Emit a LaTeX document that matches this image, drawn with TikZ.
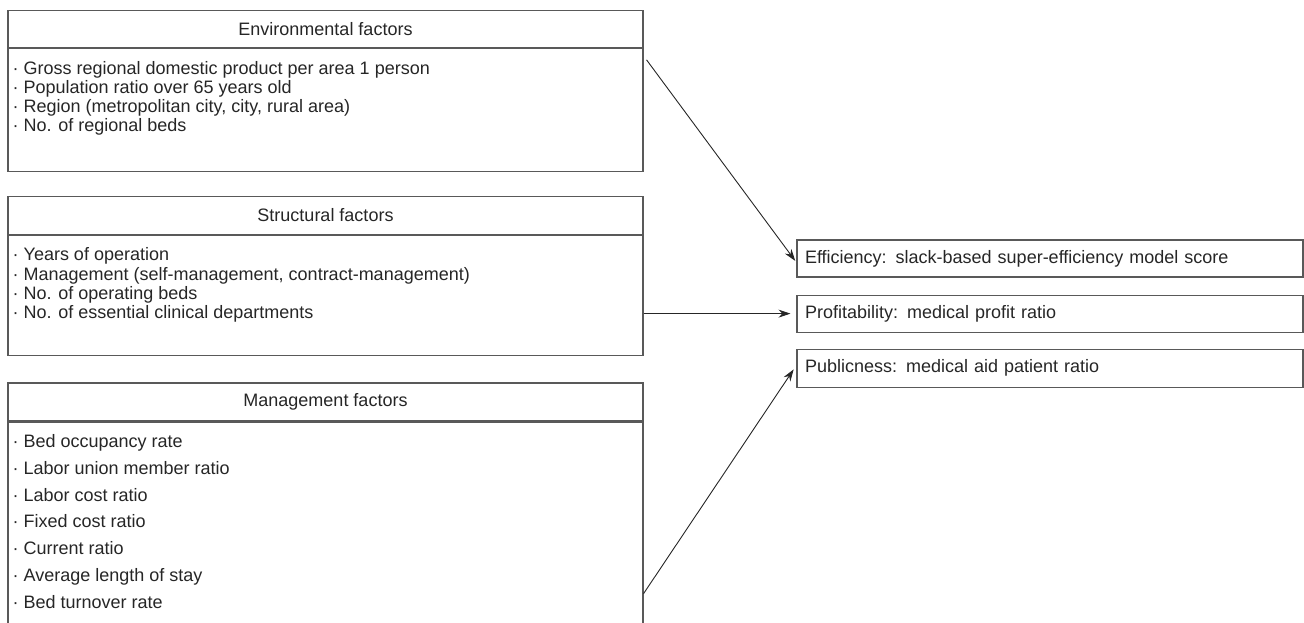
\documentclass[tikz,border=0pt]{standalone}
\usepackage{fontspec}
\setmainfont{Liberation Sans}
\usetikzlibrary{arrows.meta,positioning}

\begin{document}
\begin{tikzpicture}[
  x=1pt, y=-1pt,
  font=\fontsize{18}{19.3}\selectfont,
  every node/.style={text=black!85},
  box/.style={draw=black!65, line width=1.1pt, inner sep=0pt},
  headbox/.style={box, minimum width=635pt, minimum height=37pt},
  bodybox/.style={box, minimum width=635pt},
  listtext/.style={anchor=north west, align=left, inner xsep=5pt, inner ysep=13pt},
  outbox/.style={box, minimum width=506pt, minimum height=37pt, text width=490pt, align=left, inner xsep=8pt},
  arrow/.style={-{Stealth[length=12pt, width=8pt]}, line width=0.9pt, black!85},
]
\useasboundingbox (0,0) rectangle (1304,622);

% ===== Left column: factor groups =====
\node[headbox, minimum height=36.6pt] (envhead) at (325.5,29) {Environmental factors};
\node[bodybox, minimum height=122.7pt, below=0pt of envhead] (envbody) {};
\node[listtext] (envlist) at (envbody.north west) {· Gross regional domestic product per area 1 person\\· Population ratio over 65 years old\\· Region (metropolitan city, city, rural area)\\· No. of regional beds};

\node[headbox, minimum height=37.3pt] (strhead) at (325.5,215.4) {Structural factors};
\node[bodybox, minimum height=120pt, below=0pt of strhead] (strbody) {};
\node[listtext] (strlist) at (strbody.north west) {· Years of operation\\· Management (self-management, contract-management)\\· No. of operating beds\\· No. of essential clinical departments};

\node[headbox, minimum height=38pt] (mgmhead) at (325.5,402) {Management factors};
\node[bodybox, minimum height=219pt, below=0pt of mgmhead] (mgmbody) {};
\node[listtext, font=\fontsize{18}{26.7}\selectfont] (mgmlist) at (mgmbody.north west) {· Bed occupancy rate\\· Labor union member ratio\\· Labor cost ratio\\· Fixed cost ratio\\· Current ratio\\· Average length of stay\\· Bed turnover rate};

% ===== Right column: outcomes =====
\node[outbox] (eff) at (1050,258.5) {Efficiency: slack-based super-efficiency model score};
\node[outbox, below=17pt of eff] (prof) {Profitability: medical profit ratio};
\node[outbox, minimum height=38pt, below=16pt of prof] (pub) {Publicness: medical aid patient ratio};

% connectors
\draw[arrow, shorten >=2pt] ([shift={(3pt,-12pt)}]envbody.north east) -- ([yshift=-4pt]eff.west);
\draw[arrow, shorten >=6pt] (strbody.east |- prof.west) -- (prof.west);
\draw[arrow, shorten >=5pt] ([yshift=48pt]mgmbody.south east) -- ([yshift=3pt]pub.west);

\end{tikzpicture}
\end{document}
